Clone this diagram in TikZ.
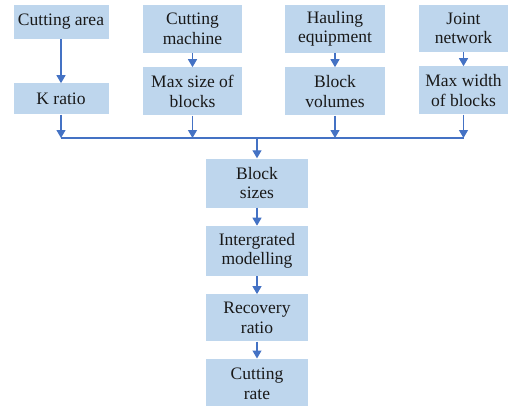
\documentclass[tikz,border=0pt]{standalone}
\usepackage{fontspec}
\setmainfont{Liberation Serif}
\definecolor{boxblue}{RGB}{190,214,237}
\definecolor{lineblue}{RGB}{68,114,196}
\usetikzlibrary{positioning,arrows.meta}
\tikzset{
  box/.style={fill=boxblue, draw=none, align=center, inner sep=1pt,
    font=\fontsize{17.5}{19.5}\selectfont, text=black!90},
  arr/.style={draw=lineblue, line width=1.2pt, -{Triangle[width=9pt,length=8pt]}},
}

\begin{document}
\begin{tikzpicture}[x=1pt,y=-1pt]
  \useasboundingbox (0,0) rectangle (509,405);
  % input factors
  \node [box, minimum width=95pt, minimum height=34pt] (ca) at (61,22) {Cutting area};
  \node [box, minimum width=99pt, minimum height=48pt] (cm) at (192.5,29) {Cutting\\machine};
  \node [box, minimum width=100pt, minimum height=48pt] (he) at (335,29) {Hauling\\equipment};
  \node [box, minimum width=89pt, minimum height=47pt] (jn) at (463.5,28.5) {Joint\\network};

  \node [box, minimum width=95pt, minimum height=31pt, below=44pt of ca] (kr) {K ratio};
  \node [box, minimum width=99pt, minimum height=48pt, below=14pt of cm] (ms) {Max size of\\blocks};
  \node [box, minimum width=100pt, minimum height=48pt, below=14pt of he] (bv) {Block\\volumes};
  \node [box, minimum width=89pt, minimum height=48pt, below=14pt of jn] (mw) {Max width\\of blocks};

  % main chain
  \node [box, minimum width=102pt, minimum height=49pt] (bs) at (257,183) {Block\\sizes};
  \node [box, minimum width=102pt, minimum height=50pt, below=18pt of bs] (im) {Intergrated\\modelling};
  \node [box, minimum width=102pt, minimum height=47pt, below=18pt of im] (rr) {Recovery\\ratio};
  \node [box, minimum width=102pt, minimum height=50pt, below=17pt of rr] (cr) {Cutting\\rate};

  \coordinate (bus) at (0,138);

  \draw [arr] (ca) -- (kr);
  \draw [arr] (cm) -- (ms);
  \draw [arr] (he) -- (bv);
  \draw [arr] (jn) -- (mw);

  \draw [arr] (kr.south) -- (kr.south |- bus);
  \draw [arr] (ms.south) -- (ms.south |- bus);
  \draw [arr] (bv.south) -- (bv.south |- bus);
  \draw [arr] (mw.south) -- (mw.south |- bus);
  \draw [draw=lineblue, line width=1.2pt] (kr.south |- bus) -- (mw.south |- bus);

  \draw [arr] (bs.north |- bus) -- (bs);
  \draw [arr] (bs) -- (im);
  \draw [arr] (im) -- (rr);
  \draw [arr] (rr) -- (cr);
\end{tikzpicture}
\end{document}
